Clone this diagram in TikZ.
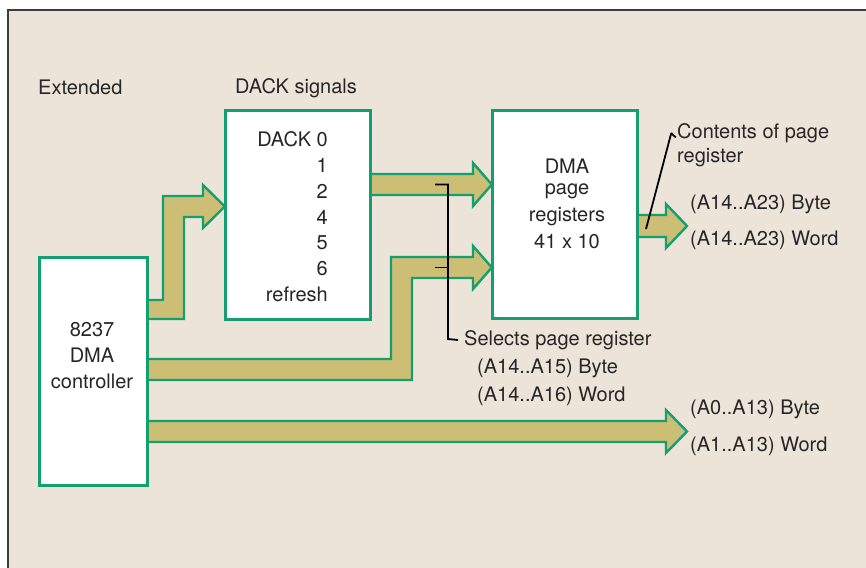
\documentclass[tikz,border=0pt]{standalone}
\usepackage{fontspec}
\setmainfont{TeX Gyre Heros}
\definecolor{bgbeige}{RGB}{237,228,217}
\definecolor{boxgreen}{RGB}{20,160,110}
\definecolor{khaki}{RGB}{205,190,118}
\definecolor{framegray}{RGB}{60,60,60}
\begin{document}
\begin{tikzpicture}[x=1pt,y=-1pt,
  box/.style={draw=boxgreen,line width=2.4pt,fill=white,inner sep=0pt},
  fat/.style={draw=boxgreen,line width=2.4pt,fill=khaki,line join=miter},
  lbl/.style={inner sep=0pt,font=\fontsize{20}{24}\selectfont,text=black!85},
  leader/.style={draw=black,line width=1.8pt}]
\useasboundingbox (0,0) rectangle (866,567);
\fill[white] (0,0) rectangle (866,567);
\fill[bgbeige] (8,10) rectangle (870,570);
\draw[framegray,line width=1.6pt] (8,572) -- (8,10) -- (870,10);

% boxes
\node[box,minimum width=107pt,minimum height=227pt] (ctrl) at (93.5,371.5) {};
\node[box,minimum width=144pt,minimum height=208pt] (dack) at (298,215) {};
\node[box,minimum width=144pt,minimum height=207pt] (page) at (565,214.5) {};

% fat arrows
\draw[fat] (ctrl.east |- 0,300) -- (163,300) -- (163,196) -- (203,196) -- (203,185)
  -- (dack.west |- 0,206.5) -- (203,228) -- (203,217) -- (184,217) -- (184,319)
  -- (ctrl.east |- 0,319);
\draw[fat] (dack.east |- 0,174) -- (473,174) -- (473,163) -- (page.west |- 0,184.5)
  -- (473,206) -- (473,195) -- (dack.east |- 0,195);
\draw[fat] (ctrl.east |- 0,359) -- (391,359) -- (391,257) -- (473,257) -- (473,246)
  -- (page.west |- 0,267.5) -- (473,289) -- (473,278) -- (412,278) -- (412,380)
  -- (ctrl.east |- 0,380);
\coordinate (tipA) at (687,431.5);
\draw[fat] (ctrl.east |- 0,421) -- (666,421) -- (666,410) -- (tipA)
  -- (666,453) -- (666,442) -- (ctrl.east |- 0,442);
\coordinate (tipB) at (687,226);
\draw[fat] (page.east |- 0,215) -- (666,215) -- (666,204) -- (tipB)
  -- (666,248) -- (666,237) -- (page.east |- 0,237);
% redraw box borders on top
\draw[draw=boxgreen,line width=2.4pt] (ctrl.north west) rectangle (ctrl.south east);
\draw[draw=boxgreen,line width=2.4pt] (dack.north west) rectangle (dack.south east);
\draw[draw=boxgreen,line width=2.4pt] (page.north west) rectangle (page.south east);

% titles
\node[lbl,anchor=west] (ext) at (38,87) {Extended};
\node[lbl,anchor=west] (dsig) at (235,88) {DACK signals};

% DACK list
\node[lbl,anchor=east] (d0) at (328,139) {DACK 0};
\node[lbl,anchor=east] (d1) at (328,165) {1};
\node[lbl,anchor=east] (d2) at (328,191) {2};
\node[lbl,anchor=east] (d4) at (328,217) {4};
\node[lbl,anchor=east] (d5) at (328,243) {5};
\node[lbl,anchor=east] (d6) at (328,269) {6};
\node[lbl,anchor=east] (dr) at (328,294) {refresh};

% page registers
\node[lbl] (p1) at (567,166) {DMA};
\node[lbl] (p2) at (567,191) {page};
\node[lbl] (p3) at (567,217) {registers};
\node[lbl] (p4) at (567,242) {41 x 10};

% controller
\node[lbl] (c1) at (92,330) {8237};
\node[lbl] (c2) at (92,355) {DMA};
\node[lbl] (c3) at (92,381) {controller};

% right labels
\node[lbl,anchor=west] (cont1) at (677,133) {Contents of page};
\node[lbl,anchor=west] (cont2) at (677,158) {register};
\node[lbl,anchor=west] (ob) at (690,204) {(A14..A23) Byte};
\node[lbl,anchor=west] (ow) at (690,240) {(A14..A23) Word};
\node[lbl,anchor=west] (sel) at (464,340) {Selects page register};
\node[lbl,anchor=west] (sb) at (477,368) {(A14..A15) Byte};
\node[lbl,anchor=west] (sw) at (477,396) {(A14..A16) Word};
\node[lbl,anchor=west] (lb) at (690,409) {(A0..A13) Byte};
\node[lbl,anchor=west] (lw) at (690,446) {(A1..A13) Word};

% leaders
\coordinate (t1) at (435,184.5);
\coordinate (t2) at (435,267.5);
\draw[leader] (t1) -- (448,184.5) -- (448,339) -- ([xshift=-6pt]sel.west);
\draw[leader] (t2) -- (448,267.5);
\coordinate (cin) at (646,229);
\draw[leader] (cin) -- (671,134) to[out=75,in=180] ([xshift=-1pt,yshift=-4pt]cont1.west);
\end{tikzpicture}
\end{document}
